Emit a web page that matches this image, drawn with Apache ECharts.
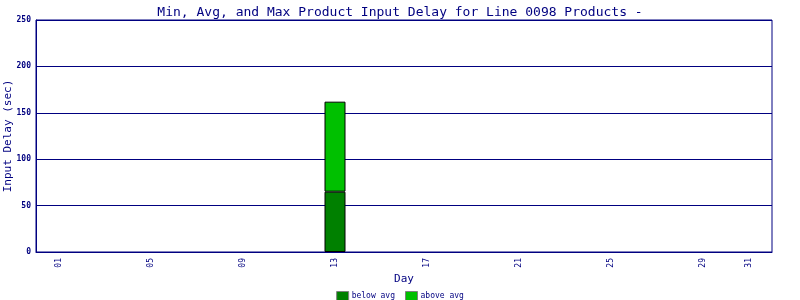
<!DOCTYPE html>
<html><head><meta charset="utf-8">
<script src="https://cdn.jsdelivr.net/npm/echarts@6/dist/echarts.min.js"></script>
<style>html,body{margin:0;padding:0;background:#fff}#c{width:800px;height:300px}</style>
</head><body><div id="c"></div>
<script>
const dayCategories = ['00','01','02','03','04','05','06','07','08','09','10','11','12','13','14','15','16',
  '17','18','19','20','21','22','23','24','25','26','27','28','29','30','31','32'];
const barDays = ['13'];
const belowAvg = [65];
const aboveAvg = [97];
const dayTickLabels = ['01', '05', '09', '13', '17', '21', '25', '29', '31'];
const yTicks = [0, 50, 100, 150, 200, 250];

const navy = '#000080';
const mono = 'DejaVu Sans Mono';
function seriesData(vals) {
  return dayCategories.map(c => {
    const i = barDays.indexOf(c);
    return i >= 0 ? vals[i] : null;
  });
}
const chart = echarts.init(document.getElementById('c'), null, {renderer: 'canvas'});
chart.setOption({
  animation: false,
  backgroundColor: '#fff',
  title: {
    text: 'Min, Avg, and Max Product Input Delay for Line 0098 Products -',
    left: 'center', top: 1,
    textStyle: {color: navy, fontFamily: mono, fontSize: 13, fontWeight: 'normal'}
  },
  legend: {
    top: 286, left: 'center',
    itemWidth: 12, itemHeight: 9, itemGap: 10,
    icon: 'rect',
    textStyle: {color: navy, fontFamily: mono, fontSize: 8, padding: [0,0,0,-2]},
    data: [
      {name: 'below avg', itemStyle: {borderColor: '#808080', borderWidth: 1}},
      {name: 'above avg', itemStyle: {borderColor: '#808080', borderWidth: 1}}
    ]
  },
  grid: {left: 36, right: 28, top: 20, bottom: 48, show: true, borderColor: navy, borderWidth: 1,
         containLabel: false, outerBoundsMode: 'none'},
  xAxis: {
    type: 'category', data: dayCategories, boundaryGap: false,
    name: 'Day', nameLocation: 'middle', nameGap: 22, nameMoveOverlap: false,
    nameTextStyle: {color: navy, fontFamily: mono, fontSize: 11},
    axisLine: {lineStyle: {color: navy}},
    axisTick: {show: false},
    splitLine: {show: false},
    axisLabel: {
      rotate: 90, color: navy, fontFamily: mono, fontSize: 8, margin: 6,
      interval: (idx, val) => dayTickLabels.includes(val)
    }
  },
  yAxis: {
    type: 'value', min: yTicks[0], max: yTicks[yTicks.length-1], interval: 50,
    name: 'Input Delay (sec)', nameLocation: 'middle', nameGap: 22, nameMoveOverlap: false,
    nameTextStyle: {color: navy, fontFamily: mono, fontSize: 11},
    axisLine: {show: true, lineStyle: {color: navy}},
    axisTick: {show: false},
    splitLine: {lineStyle: {color: navy, width: 1}},
    axisLabel: {color: navy, fontFamily: mono, fontSize: 8, fontWeight: 'bold', margin: 5}
  },
  series: [
    {name: 'below avg', type: 'bar', stack: 's', barWidth: 21,
     itemStyle: {color: '#008000', borderColor: '#000', borderWidth: 1},
     data: seriesData(belowAvg)},
    {name: 'above avg', type: 'bar', stack: 's', barWidth: 21,
     itemStyle: {color: '#00c000', borderColor: '#000', borderWidth: 1},
     data: seriesData(aboveAvg)}
  ]
});
</script></body></html>
